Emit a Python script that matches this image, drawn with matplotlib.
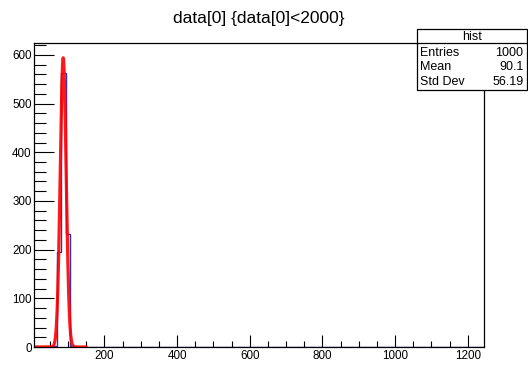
import numpy as np
import matplotlib
matplotlib.use("Agg")
import matplotlib.pyplot as plt
from matplotlib.ticker import MultipleLocator
from matplotlib.patches import Rectangle
from matplotlib.lines import Line2D

plt.rcParams['font.family'] = ['Liberation Sans', 'DejaVu Sans']

# histogram: 100 bins between xmin and xmax
x_min, x_max, n_bins = 7.0, 1244.0, 100
filled_bins = [0, 4, 5, 6, 7, 8, 21, 33, 99]
filled_counts = [1, 2, 195, 562, 233, 3, 1, 1, 1]

# gaussian fit (red)
fit_const, fit_mean, fit_sigma = 594.0, 86.5, 8.2
fit_range = (7.0, 149.0)

# stats box
stats_title = "hist"
stats_rows = [("Entries", "1000"), ("Mean", "90.1"), ("Std Dev", "56.19")]
title = "data[0] {data[0]<2000}"

edges = np.linspace(x_min, x_max, n_bins + 1)
counts = np.zeros(n_bins)
counts[filled_bins] = filled_counts

W, H = 528, 365
fig = plt.figure(figsize=(W / 100, H / 100), dpi=100)
ax = fig.add_axes([34.3 / W, 1 - 347.0 / H, (483.7 - 34.3) / W, (347.0 - 42.7) / H])

ax.stairs(counts, edges, color='#3030b8', linewidth=1.0)

xf = np.linspace(fit_range[0], fit_range[1], 600)
yf = fit_const * np.exp(-0.5 * ((xf - fit_mean) / fit_sigma) ** 2)
ax.plot(xf, yf, color='#ff0000', linewidth=2.3, alpha=0.9)

ax.set_xlim(x_min, x_max)
ax.set_ylim(0, 625)
ax.xaxis.set_major_locator(MultipleLocator(200))
ax.xaxis.set_minor_locator(MultipleLocator(50))
ax.yaxis.set_major_locator(MultipleLocator(100))
ax.yaxis.set_minor_locator(MultipleLocator(20))
ax.tick_params(axis='x', which='major', direction='in', length=9, width=0.8, labelsize=8.4, pad=2)
ax.tick_params(axis='x', which='minor', direction='in', length=4.5, width=0.8)
ax.tick_params(axis='y', which='major', direction='in', length=14.5, width=0.8, labelsize=8.4, pad=2)
ax.tick_params(axis='y', which='minor', direction='in', length=8.3, width=0.8)
ax.tick_params(top=False, right=False, which='both')
ax.xaxis.set_major_formatter(lambda v, p: "" if v <= 0 else f"{v:.0f}")
for s in ax.spines.values():
    s.set_linewidth(0.9)

fig.text(258.8 / W, 1 - 18.3 / H, title, ha='center', va='center', fontsize=12.5)

# stats box
bx0, bx1 = 416.7 / W, 527.0 / W
by1, by0 = 1 - 29.3 / H, 1 - 90.0 / H
hy = 1 - 43.3 / H
fig.patches.append(Rectangle((bx0, by0), bx1 - bx0, by1 - by0, transform=fig.transFigure,
                             facecolor='white', edgecolor='black', linewidth=0.9, zorder=5))
fig.lines.append(Line2D([bx0, bx1], [hy, hy], transform=fig.transFigure, color='black',
                        linewidth=0.9, zorder=6))
fig.text((bx0 + bx1) / 2, 1 - 37.0 / H, stats_title, ha='center', va='center', fontsize=9, zorder=7)
row_y = [53.3, 67.3, 81.7]
for (name, val), yy in zip(stats_rows, row_y):
    fig.text(420 / W, 1 - yy / H, name, ha='left', va='center', fontsize=9, zorder=7)
    fig.text(523.3 / W, 1 - yy / H, val, ha='right', va='center', fontsize=9, zorder=7)

fig.savefig("out.png", dpi=100)
